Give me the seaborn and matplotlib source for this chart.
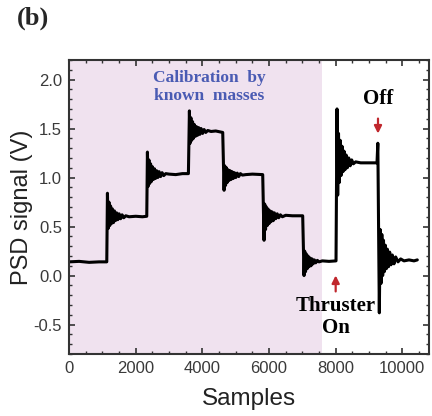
import numpy as np
import pandas as pd
import matplotlib
matplotlib.use("Agg")
import matplotlib.pyplot as plt
from matplotlib.ticker import MultipleLocator
import seaborn as sns

# ---------------------------------------------------------
# data (samples, PSD signal in V)
# ---------------------------------------------------------
samples = [
    0, 300, 600, 900, 1130,
    # mass 1 added
    1150, 1170, 1195, 1220, 1245, 1270, 1300, 1330, 1360, 1390, 1425, 1460,
    1500, 1545, 1590, 1640, 1700, 1800, 2000, 2200, 2330,
    # mass 2 added
    2350, 2370, 2395, 2420, 2445, 2470, 2500, 2530, 2560, 2590, 2625, 2660,
    2700, 2745, 2790, 2840, 2900, 3000, 3200, 3400, 3580,
    # mass 3 added
    3610, 3630, 3655, 3680, 3705, 3730, 3760, 3790, 3820, 3850, 3885, 3920,
    3960, 4005, 4050, 4100, 4160, 4260, 4400, 4610,
    # mass 3 removed
    4650, 4670, 4695, 4720, 4745, 4770, 4800, 4830, 4860, 4890, 4925, 4960,
    5000, 5045, 5090, 5140, 5200, 5300, 5500, 5810,
    # mass 2 removed
    5850, 5870, 5895, 5920, 5945, 5970, 6000, 6030, 6060, 6090, 6125, 6160,
    6200, 6245, 6290, 6340, 6400, 6500, 6700, 7010,
    # mass 1 removed
    7050, 7070, 7095, 7120, 7145, 7170, 7200, 7230, 7260, 7290, 7325, 7360,
    7400, 7450, 7500, 7600, 7800, 8010,
    # thruster on
    8040, 8060, 8085, 8110, 8135, 8160, 8190, 8220, 8250, 8280, 8315, 8350,
    8390, 8435, 8480, 8530, 8600, 8750, 9000, 9240,
    # thruster off
    9265, 9310, 9335, 9360, 9385, 9410, 9435, 9460, 9490, 9520, 9550, 9585,
    9620, 9660, 9700, 9750, 9800, 9870, 9950, 10050, 10200, 10350, 10450,
]
psd_v = [
    0.14, 0.145, 0.135, 0.14, 0.14,
    0.84, 0.48, 0.75, 0.51, 0.71, 0.53, 0.68, 0.54, 0.66, 0.56, 0.64, 0.57,
    0.63, 0.58, 0.62, 0.59, 0.61, 0.60, 0.605, 0.60, 0.605,
    1.26, 0.91, 1.18, 0.94, 1.14, 0.96, 1.11, 0.98, 1.09, 0.99, 1.07, 1.00,
    1.06, 1.01, 1.05, 1.02, 1.04, 1.035, 1.03, 1.04, 1.04,
    1.68, 1.35, 1.61, 1.38, 1.57, 1.40, 1.54, 1.42, 1.52, 1.43, 1.51, 1.44,
    1.50, 1.45, 1.49, 1.46, 1.48, 1.47, 1.475, 1.46,
    0.87, 1.12, 0.92, 1.10, 0.95, 1.08, 0.97, 1.07, 0.98, 1.06, 0.99, 1.05,
    1.00, 1.045, 1.01, 1.04, 1.025, 1.03, 1.035, 1.03,
    0.36, 0.73, 0.47, 0.70, 0.51, 0.68, 0.53, 0.66, 0.55, 0.65, 0.56, 0.64,
    0.58, 0.63, 0.59, 0.62, 0.60, 0.615, 0.61, 0.61,
    0.00, 0.25, 0.04, 0.22, 0.07, 0.20, 0.09, 0.18, 0.10, 0.17, 0.12, 0.16,
    0.13, 0.155, 0.14, 0.15, 0.145, 0.15,
    1.70, 0.82, 1.45, 0.95, 1.38, 1.02, 1.32, 1.06, 1.27, 1.08, 1.23, 1.10,
    1.20, 1.12, 1.18, 1.14, 1.16, 1.15, 1.15, 1.15,
    1.35, -0.38, 0.47, -0.08, 0.42, 0.00, 0.36, 0.04, 0.31, 0.07, 0.27, 0.09,
    0.24, 0.11, 0.21, 0.12, 0.19, 0.14, 0.17, 0.15, 0.16, 0.15, 0.16,
]
calib_span = [0, 7600]
x_ticks = [0, 2000, 4000, 6000, 8000, 10000]
y_ticks = [-0.5, 0.0, 0.5, 1.0, 1.5, 2.0]

df = pd.DataFrame({"Samples": samples, "PSD": psd_v})

sns.set_style("ticks")
plt.rcParams['font.family'] = ['Liberation Sans', 'DejaVu Sans']

fig = plt.figure(figsize=(4.32, 4.16), dpi=100)
ax = fig.add_axes([0.160, 0.149, 0.833, 0.707])

ax.axvspan(calib_span[0], calib_span[1], color='#f0e2ef', zorder=0, lw=0)
sns.lineplot(data=df, x="Samples", y="PSD", ax=ax, color='black',
             lw=2.2, sort=False, estimator=None)

ax.set_xlim(0, 10800)
ax.set_ylim(-0.8, 2.2)
ax.set_xticks(x_ticks)
ax.set_yticks(y_ticks)
ax.xaxis.set_minor_locator(MultipleLocator(500))
ax.yaxis.set_minor_locator(MultipleLocator(0.1))
ax.set_yticklabels([f"{v:.1f}" for v in y_ticks])
ax.tick_params(which='both', direction='in', top=True, right=True,
               color='#333333', labelsize=12, labelcolor='#3a3a3a')
ax.tick_params(which='major', length=4, width=1.2, pad=5)
ax.tick_params(which='minor', length=2, width=1.0)
for sp in ax.spines.values():
    sp.set_linewidth(1.5)
    sp.set_color('#333333')

ax.set_xlabel("Samples", fontsize=17.5, color='#222222', labelpad=9)
ax.set_ylabel("PSD signal (V)", fontsize=17, color='#222222', labelpad=0.5)

serif = ['Liberation Serif', 'DejaVu Serif']
ax.text(4200, 1.92, "Calibration  by\nknown  masses", ha='center', va='center',
        fontsize=12.5, fontweight='bold', family=serif, color='#4a5bb3',
        linespacing=1.15)
ax.text(9270, 1.80, "Off", ha='center', va='center', fontsize=15,
        fontweight='bold', family=serif, color='black')
ax.annotate("", xy=(9270, 1.42), xytext=(9270, 1.63),
            arrowprops=dict(arrowstyle='-|>', color='#c0272d', lw=1.6,
                            mutation_scale=11))
ax.annotate("", xy=(8000, 0.03), xytext=(8000, -0.19),
            arrowprops=dict(arrowstyle='-|>', color='#c0272d', lw=1.6,
                            mutation_scale=11))
ax.text(8000, -0.42, "Thruster\nOn", ha='center', va='center', fontsize=15,
        fontweight='bold', family=serif, color='black', linespacing=1.15)

fig.text(0.04, 0.955, "(b)", fontsize=19, fontweight='bold', family=serif,
         va='center', ha='left')

fig.savefig("out.png", dpi=100)
